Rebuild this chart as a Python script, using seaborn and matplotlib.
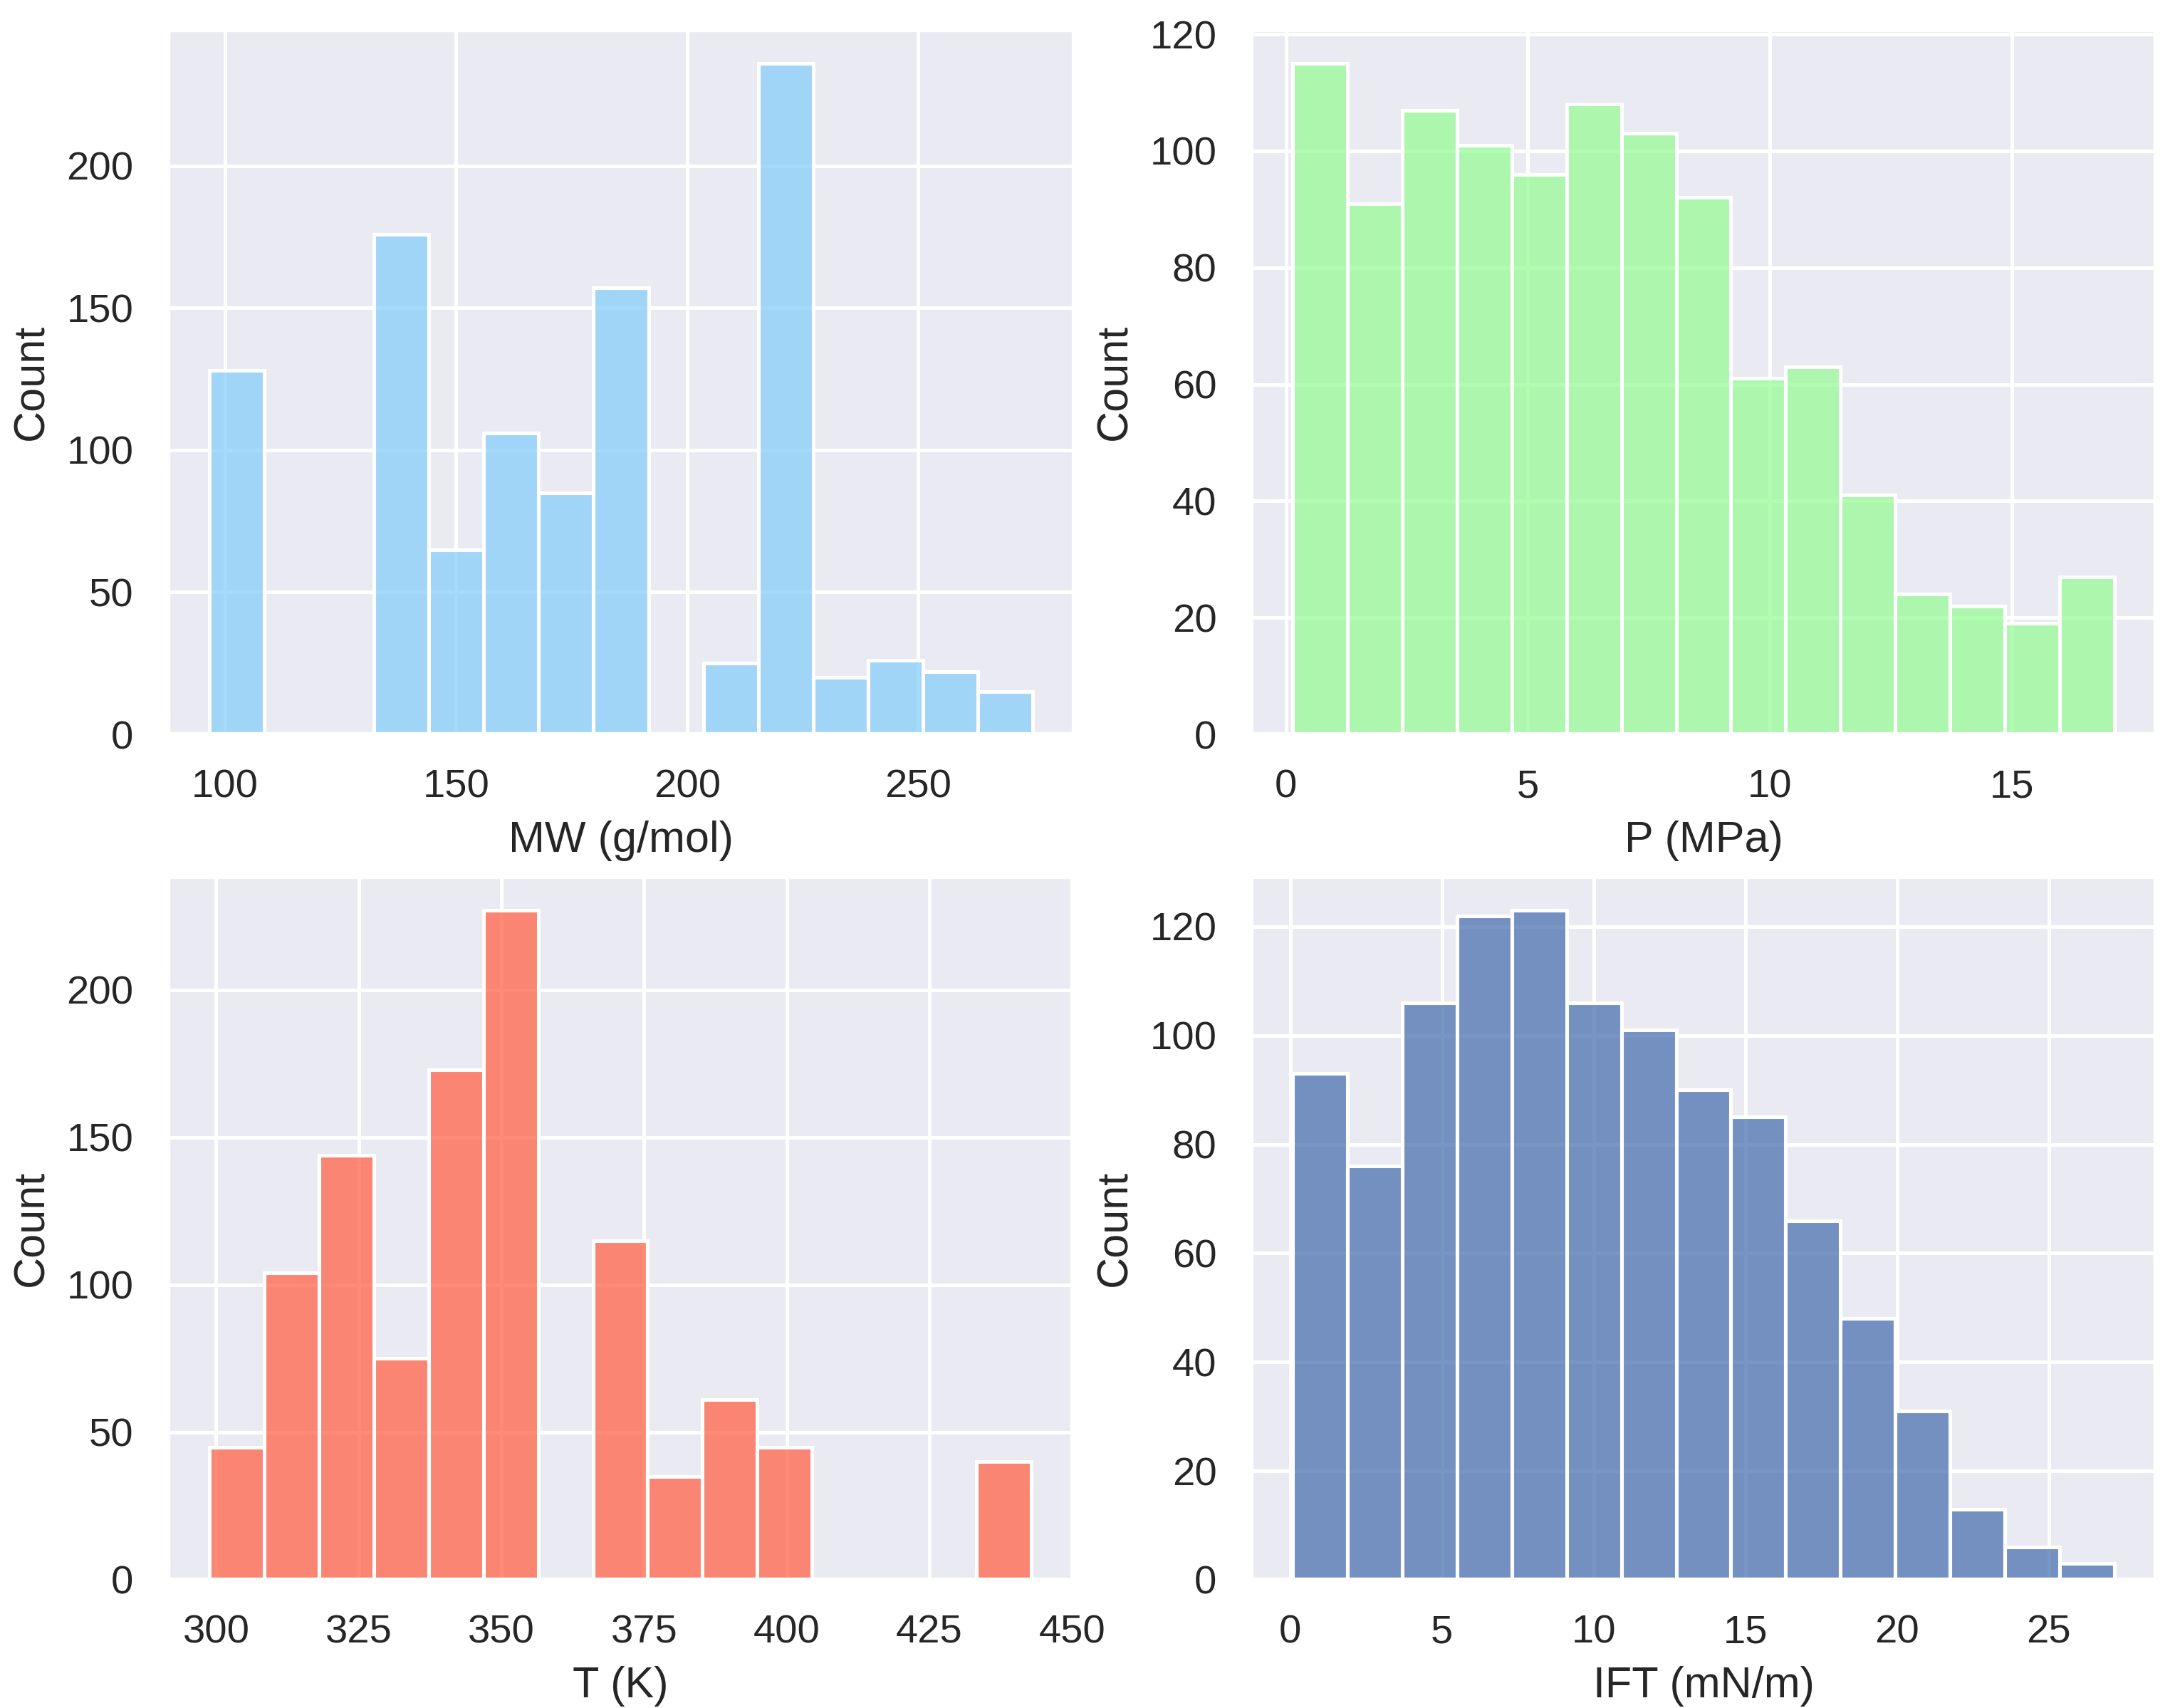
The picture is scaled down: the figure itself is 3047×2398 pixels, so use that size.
import numpy as np
import pandas as pd
import seaborn as sns
import matplotlib.pyplot as plt

sns.set_theme(style="darkgrid")
plt.rcParams['font.family'] = ['Liberation Sans', 'DejaVu Sans']

# ---- data (bin counts, 15 bins each) ----
mw_counts = [128, 0, 0, 176, 65, 106, 85, 157, 0, 25, 236, 20, 26, 22, 15]
mw_range = (96.6, 274.8)

p_counts = [115, 91, 107, 101, 96, 108, 103, 92, 61, 63, 41, 24, 22, 19, 27]
p_range = (0.13, 17.13)

t_counts = [45, 104, 144, 75, 173, 227, 0, 115, 35, 61, 45, 0, 0, 0, 40]
t_range = (298.8, 442.9)

ift_counts = [93, 76, 106, 122, 123, 106, 101, 90, 85, 66, 48, 31, 13, 6, 3]
ift_range = (0.07, 27.17)

labels = ["MW (g/mol)", "P (MPa)", "T (K)", "IFT (mN/m)"]
colors = ["lightskyblue", "palegreen", "tomato", "#4C72B0"]

DPI = 367
fig = plt.figure(figsize=(3047 / DPI, 2398 / DPI), dpi=DPI)

W, H = 3047, 2398
boxes = [
    (236, 42, 1508, 1031),
    (1757, 42, 3027, 1031),
    (236, 1231, 1506, 2218),
    (1757, 1231, 3027, 2218),
]

datasets = [
    (mw_counts, mw_range),
    (p_counts, p_range),
    (t_counts, t_range),
    (ift_counts, ift_range),
]

for (x0, y0, x1, y1), (counts, rng), lab, col in zip(boxes, datasets, labels, colors):
    ax = fig.add_axes([x0 / W, 1 - y1 / H, (x1 - x0) / W, (y1 - y0) / H])
    n = len(counts)
    width = (rng[1] - rng[0]) / n
    centers = [rng[0] + width * (i + 0.5) for i in range(n)]
    df = pd.DataFrame({"x": centers, "w": counts})
    sns.histplot(data=df, x="x", weights="w", bins=n, binrange=rng,
                 color=col, ax=ax)
    ax.set_xlabel(lab)
    ax.set_ylabel("Count")

fig.savefig("out.png", dpi=DPI)
